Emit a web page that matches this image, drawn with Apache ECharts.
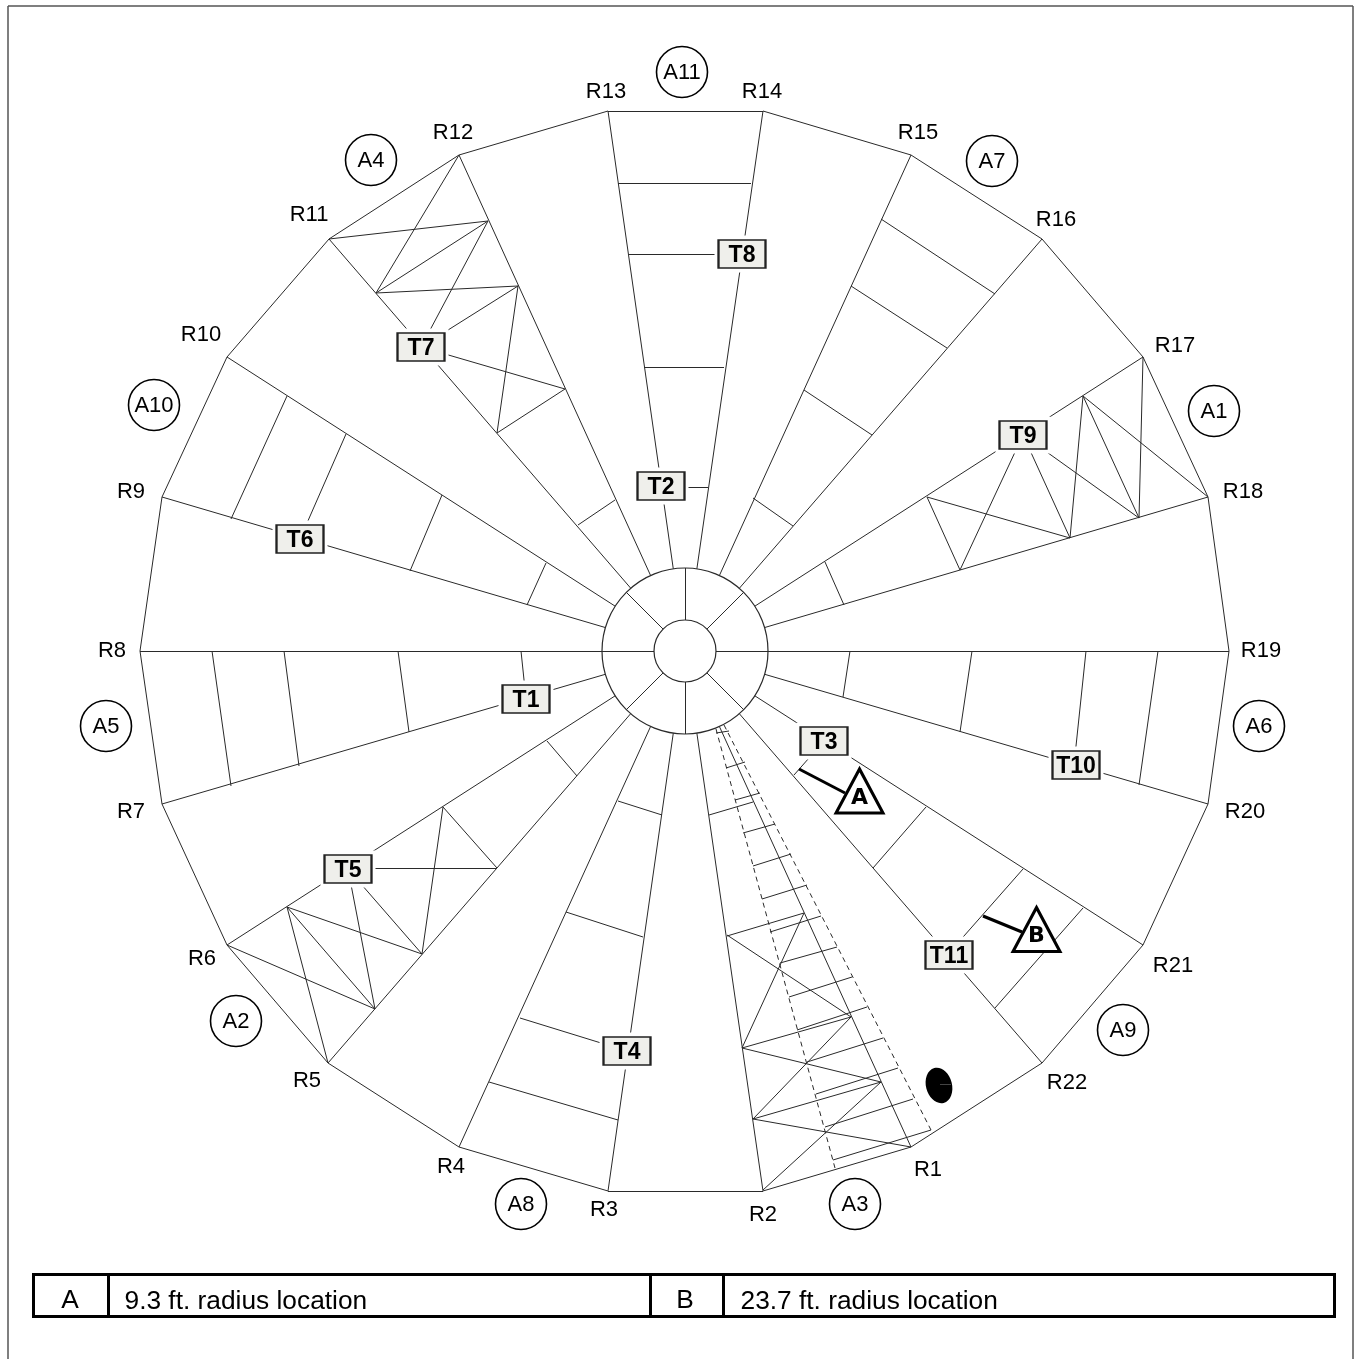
<!DOCTYPE html>
<html><head><meta charset="utf-8">
<style>html,body{margin:0;padding:0;background:#fff;overflow:hidden}#c{width:1360px;height:1359px}</style>
<script src="https://cdn.jsdelivr.net/npm/echarts@6/dist/echarts.min.js"></script>
</head><body><div id="c"></div>
<script>
const hub=[685,651];
const ringRadii=[31,83];
const vertexNames=['R1','R2','R3','R4','R5','R6','R7','R8','R9','R10','R11','R12','R13','R14','R15','R16','R17','R18','R19','R20','R21','R22'];
const vertices=[[911,1147],[763,1191],[608,1191],[459,1147],[328,1063],[227,945],[162,804],[140,651],[162,497],[227,357],[329,239],[459,155],[608,111],[763,111],[911,155],[1042,239],[1143,357],[1208,497],[1229,651],[1208,804],[1143,945],[1042,1063]];
const vertexLabels=[[928,1168],[763,1213],[604,1208],[451,1165],[307,1079],[202,957],[131,810],[112,649],[131,490],[201,333],[309,213],[453,131],[606,90],[762,90],[918,131],[1056,218],[1175,344],[1243,490],[1261,649],[1245,810],[1173,964],[1067,1081]];
const ringSpokeAngles=[0,45,90,135,180,225,270,315];
const rungs=[
[618,183,751,183],[629,254,742,254],[644,367,724,367],[661,487,708,487],
[881,219,995,294],[851,286,947,348],[804,390,872,435],[753,498,793,526],
[825,562,844,605],
[850,651,843,697],[972,651,960,732],[1086,651,1074,765],[1158,651,1139,785],
[824,741,794,775],[873,868,926,807],[949,953,1023,869],[995,1008,1083,908],
[618,801,662,815],[566,912,643,937],[520,1018,627,1051],[489,1082,618,1120],
[547,741,577,776],
[212,651,231,786],[284,651,299,766],[398,651,409,732],[521,651,526,699],
[231,519,287,396],[300,539,346,434],[410,571,442,495],[527,605,546,563],
[578,525,615,500]
];
const bracesT7=[[329,239,488,221],[376,293,459,155],[376,293,488,221],[376,293,518,286],[488,221,421,347],[518,286,421,347],[565,389,421,347],[518,286,497,433],[565,389,497,433]];
const bracesT5=[[227,945,375,1009],[287,907,328,1063],[287,907,375,1009],[287,907,422,954],[348,869,375,1009],[348,869,422,954],[348,868,497,868],[443,807,422,954],[443,807,497,868]];
const bracesT9=[[1083,396,1208,497],[1143,357,1139,518],[1083,396,1139,518],[1083,396,1070,538],[927,497,1070,538],[927,497,960,570],[1023,435,960,570],[1023,435,1070,538],[1023,435,1139,518]];
const rungsR1=[
[716,733,729,731],[726,768,745,762],[735,800,760,793],[709,815,753,802],[743,833,775,824],[753,866,791,854],[762,899,807,885],[727,936,804,913],[770,932,821,916],[780,963,837,947],[789,997,852,977],[797,1030,867,1007],[742,1048,851,1017],[807,1062,883,1038],[816,1094,898,1068],[753,1119,881,1082],[825,1127,913,1099],[833,1160,931,1130]
];
const bracesR1=[[727,935,851,1017],[804,913,742,1048],[742,1048,881,1082],[851,1017,753,1119],[753,1119,911,1147],[881,1082,763,1190]];
const dashedLines=[[716,729,835,1168],[724,725,931,1130]];
const leaders=[[799,769,845,793],[983,916,1022,932]];
const blobMark=[[940,1084,951,1084]];
const frame=[[8,6,8,1359],[8,6,1353,6],[1353,6,1353,1359]];
const tableLines=[[33,1274,1335,1274],[33,1316,1335,1316],[33,1273,33,1318],[108,1273,108,1316],[650,1273,650,1316],[723,1273,723,1316],[1334,1273,1334,1318]];
const areaNames=['A1','A2','A3','A4','A5','A6','A7','A8','A9','A10','A11'];
const areaCenters=[[1214,411],[236,1021],[855,1204],[371,160],[106,726],[1259,726],[992,161],[521,1204],[1123,1030],[154,405],[682,72]];
const boxNames=['T1','T2','T3','T4','T5','T6','T7','T8','T9','T10','T11'];
const boxCenters=[[526,699],[661,486],[824,741],[627,1051],[348,869],[300,539],[421,347],[742,254],[1023,435],[1076,765],[949,955]];
const markerNames=['A','B'];
const markerCenters=[[859.5,791],[1036.5,929.5]];
const blob=[939,1085.5,13,18,15];
const tableTexts=[['A',70,1301,'center'],['9.3 ft. radius location',124,1302,'left'],['B',685,1301,'center'],['23.7 ft. radius location',740,1302,'left']];

const toLines=a=>a.map(s=>({coords:[[s[0],s[1]],[s[2],s[3]]]}));
const lineSeries=(segs,width,color,type,z)=>({type:'lines',coordinateSystem:'cartesian2d',silent:true,z:z||2,polyline:false,
  lineStyle:{width:width,color:color,type:type||'solid',opacity:1,curveness:0},data:toLines(segs)});
const edgeSegs=vertices.map((v,i)=>{const n=vertices[(i+1)%vertices.length];return [v[0],v[1],n[0],n[1]];});
const spokeSegs=vertices.map(v=>{const dx=v[0]-hub[0],dy=v[1]-hub[1],d=Math.hypot(dx,dy);
  return [hub[0]+dx/d*ringRadii[1],hub[1]+dy/d*ringRadii[1],v[0],v[1]];});
const ringSegs=ringSpokeAngles.map(a=>{const t=a*Math.PI/180,c=Math.cos(t),s=Math.sin(t);
  return [hub[0]+c*ringRadii[0],hub[1]+s*ringRadii[0],hub[0]+c*ringRadii[1],hub[1]+s*ringRadii[1]];});
const ink='#2a2a2a';
const clear='rgba(0,0,0,0)';
const textSeries=(pts,names,font,z)=>({type:'scatter',symbolSize:1,silent:true,z:z||8,itemStyle:{color:clear,opacity:1},
  label:{show:true,position:'inside',formatter:'{b}',color:'#000',offset:[0,2],...font},
  data:pts.map((p,i)=>({name:names[i],value:p}))});
const option={
  animation:false,backgroundColor:'#fff',
  grid:{left:0,right:0,top:0,bottom:0,containLabel:false},
  xAxis:{type:'value',min:0,max:1360,show:false},
  yAxis:{type:'value',min:0,max:1359,inverse:true,show:false},
  tooltip:{show:false},legend:{show:false},
  series:[
    lineSeries(frame,1.5,'#555'),
    lineSeries(edgeSegs,1,ink),
    lineSeries(spokeSegs,1,ink),
    lineSeries(ringSegs,1,ink),
    lineSeries(rungs,1,ink),
    lineSeries(bracesT7,1,ink),
    lineSeries(bracesT5,1,ink),
    lineSeries(bracesT9,1,ink),
    lineSeries(rungsR1,1,ink),
    lineSeries(bracesR1,1,ink),
    lineSeries(dashedLines,1,ink,[5,4]),
    lineSeries(leaders,3,'#000','solid',3),
    lineSeries(tableLines,3,'#000'),
    lineSeries(blobMark,1,'#444','solid',4),
    {type:'scatter',silent:true,z:2,symbol:'circle',
     data:ringRadii.map(r=>({value:hub,symbolSize:r*2,itemStyle:{color:clear,borderColor:ink,borderWidth:1.2,opacity:1}}))},
    {type:'scatter',silent:true,z:3,symbol:'rect',symbolSize:[55,37],itemStyle:{color:'#fff',opacity:1},data:boxCenters},
    {type:'scatter',silent:true,z:4,symbol:'rect',symbolSize:[47,28],itemStyle:{color:'#efefeb',borderColor:'#222',borderWidth:1.8,opacity:1},
     label:{show:true,position:'inside',offset:[0,2],formatter:'{b}',color:'#000',fontFamily:'Liberation Sans',fontWeight:'bold',fontSize:23},
     data:boxCenters.map((p,i)=>({name:boxNames[i],value:p}))},
    {type:'scatter',silent:true,z:5,symbol:'triangle',symbolSize:[47,44],itemStyle:{color:'#fff',borderColor:'#000',borderWidth:3,opacity:1},
     label:{show:true,position:'inside',offset:[0,7],formatter:'{b}',color:'#000',fontFamily:'DejaVu Sans',fontWeight:'bold',fontSize:22},
     data:markerCenters.map((p,i)=>({name:markerNames[i],value:p}))},
    {type:'scatter',silent:true,z:3,symbol:'circle',symbolSize:51,itemStyle:{color:'#fff',borderColor:'#000',borderWidth:1.6,opacity:1},
     label:{show:true,position:'inside',offset:[0,1],formatter:'{b}',color:'#000',fontFamily:'Liberation Sans',fontSize:22},
     data:areaCenters.map((p,i)=>({name:areaNames[i],value:p}))},
    {type:'custom',silent:true,z:3,data:[blob],coordinateSystem:'cartesian2d',
     renderItem:(params,api)=>{const c=api.coord([api.value(0),api.value(1)]);
       return {type:'ellipse',x:c[0],y:c[1],rotation:api.value(4)*Math.PI/180,
         shape:{cx:0,cy:0,rx:api.value(2),ry:api.value(3)},style:{fill:'#000'}};}},
    textSeries(vertexLabels,vertexNames,{fontFamily:'Liberation Sans',fontSize:22}),
    ...tableTexts.map(t=>({type:'scatter',symbolSize:1,silent:true,z:8,itemStyle:{color:clear,opacity:1},
      label:{show:true,position:t[3]==='left'?'right':'inside',distance:0,formatter:'{b}',color:'#000',fontFamily:'Liberation Sans',fontSize:26.3},
      data:[{name:t[0],value:[t[1],t[2]]}]}))
  ]
};
echarts.init(document.getElementById('c'),null,{renderer:'canvas',width:1360,height:1359}).setOption(option);
</script></body></html>
